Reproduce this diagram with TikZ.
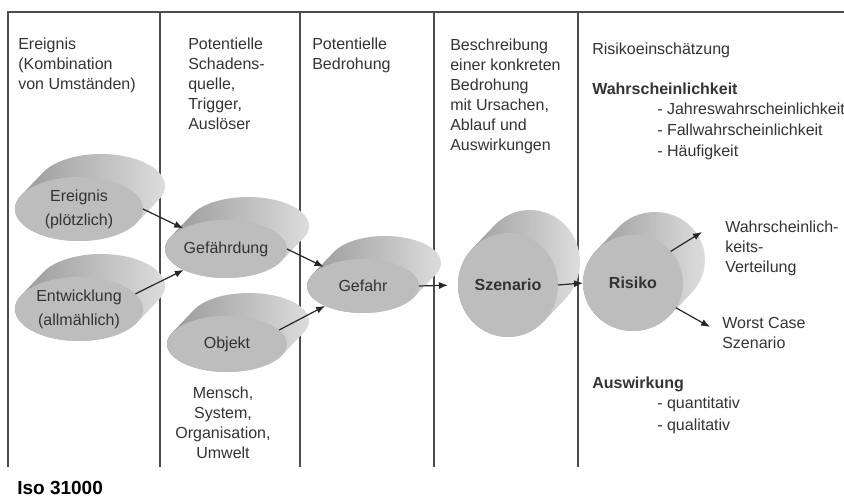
\documentclass[tikz,border=0pt]{standalone}
\usepackage{fontspec}
\setmainfont{Liberation Sans}
\usetikzlibrary{shapes.geometric,arrows.meta}

\begin{document}
\begin{tikzpicture}[x=1pt,y=1pt,semithick]
\tikzstyle{disco}=[ellipse,fill=black!26,inner sep=0pt,outer sep=0pt,align=center,text=black!80,font=\fontsize{16}{20}\selectfont]
\tikzstyle{lomo}=[left color=black!42,right color=black!12]
\tikzstyle{texto}=[anchor=north west,inner sep=0pt,align=left,text=black!80,font=\fontsize{16}{20}\selectfont]
\tikzstyle{linea}=[line width=1.5pt,black!70]
\tikzstyle{flecha}=[-{Latex[length=9pt,width=7pt]},line width=1.2pt,black!85]
\useasboundingbox (0,0) rectangle (844,498);
%marco
\draw[linea] (8,31) -- (8,486) -- (844,486);
\foreach \xc in {160,300,434,578}
  \draw[linea] (\xc,486) -- (\xc,31);
%discos
\foreach \n/\x/\y/\a/\b/\lab in {ereignis/79/289/64/32/{Ereignis\\[4pt](plötzlich)},
    entw/79/189/64/32/{Entwicklung\\[4pt](allmählich)},
    gefaehrdung/226/249/61/29/{Gefährdung},
    objekt/227/154/60/28/{Objekt},
    gefahr/363/212/56/27/{Gefahr},
    szenario/508/213/50/52/{\bfseries Szenario},
    risiko/633/215/50/48/{\bfseries Risiko}}{
  \pgfmathsetmacro{\ang}{atan(-(\b*22)/(\a*23))}
  \pgfmathsetmacro{\angb}{\ang+180}
  \pgfmathsetmacro{\angc}{\ang+360}
  \pgfmathsetmacro{\cx}{\a*cos(\ang)}
  \pgfmathsetmacro{\cy}{\b*sin(\ang)}
  \shade[lomo] ({\x+22+\cx},{\y+23+\cy})
    arc[start angle=\ang,end angle=\angb,x radius=\a,y radius=\b]
    -- ({\x-\cx},{\y-\cy})
    arc[start angle=\angb,end angle=\angc,x radius=\a,y radius=\b] -- cycle;
  \node[disco,minimum width=2*\a,minimum height=2*\b] (\n) at (\x,\y) {\lab};
}
%textos
\node[texto] (col1) at (18,460) {Ereignis\\(Kombination\\von Umständen)};
\node[texto] (col2) at (188,460) {Potentielle\\Schadens-\\quelle,\\Trigger,\\Auslöser};
\node[texto] (col3) at (312,460) {Potentielle\\Bedrohung};
\node[texto] (col4) at (450,459) {Beschreibung\\einer konkreten\\Bedrohung\\mit Ursachen,\\Ablauf und\\Auswirkungen};
\node[texto] (col5) at (592,455) {Risikoeinschätzung};
\node[texto,font=\fontsize{16}{20}\selectfont\bfseries] (wahr) at (592,415) {Wahrscheinlichkeit};
\node[texto,font=\fontsize{16}{21}\selectfont] (wliste) at (657,395) {- Jahreswahrscheinlichkeit\\- Fallwahrscheinlichkeit\\- Häufigkeit};
\node[texto] (vert) at (725,277) {Wahrscheinlich-\\keits-\\Verteilung};
\node[texto] (worst) at (722,181) {Worst Case\\Szenario};
\node[texto,font=\fontsize{16}{20}\selectfont\bfseries] (ausw) at (592,121) {Auswirkung};
\node[texto,font=\fontsize{16}{22}\selectfont] (aliste) at (657,101) {- quantitativ\\- qualitativ};
\node[texto,anchor=north,align=center] (objliste) at (223,111) {Mensch,\\System,\\Organisation,\\Umwelt};
\node[anchor=base west,inner sep=0pt,font=\fontsize{19}{22}\selectfont\bfseries] (iso) at (17,3) {Iso 31000};
%flechas
\coordinate (pv) at (702,266);
\coordinate (pw) at (710,171);
\path (ereignis.east) edge[flecha] (gefaehrdung)
      (entw.15) edge[flecha] (gefaehrdung)
      (gefaehrdung.east) edge[flecha] (gefahr)
      (objekt.15) edge[flecha] (gefahr)
      (gefahr.east) edge[flecha,shorten >=10pt] (szenario.west)
      (szenario.east) edge[flecha] (risiko.west)
      (risiko.40) edge[flecha] (pv)
      (risiko.-30) edge[flecha] (pw);
\end{tikzpicture}
\end{document}
